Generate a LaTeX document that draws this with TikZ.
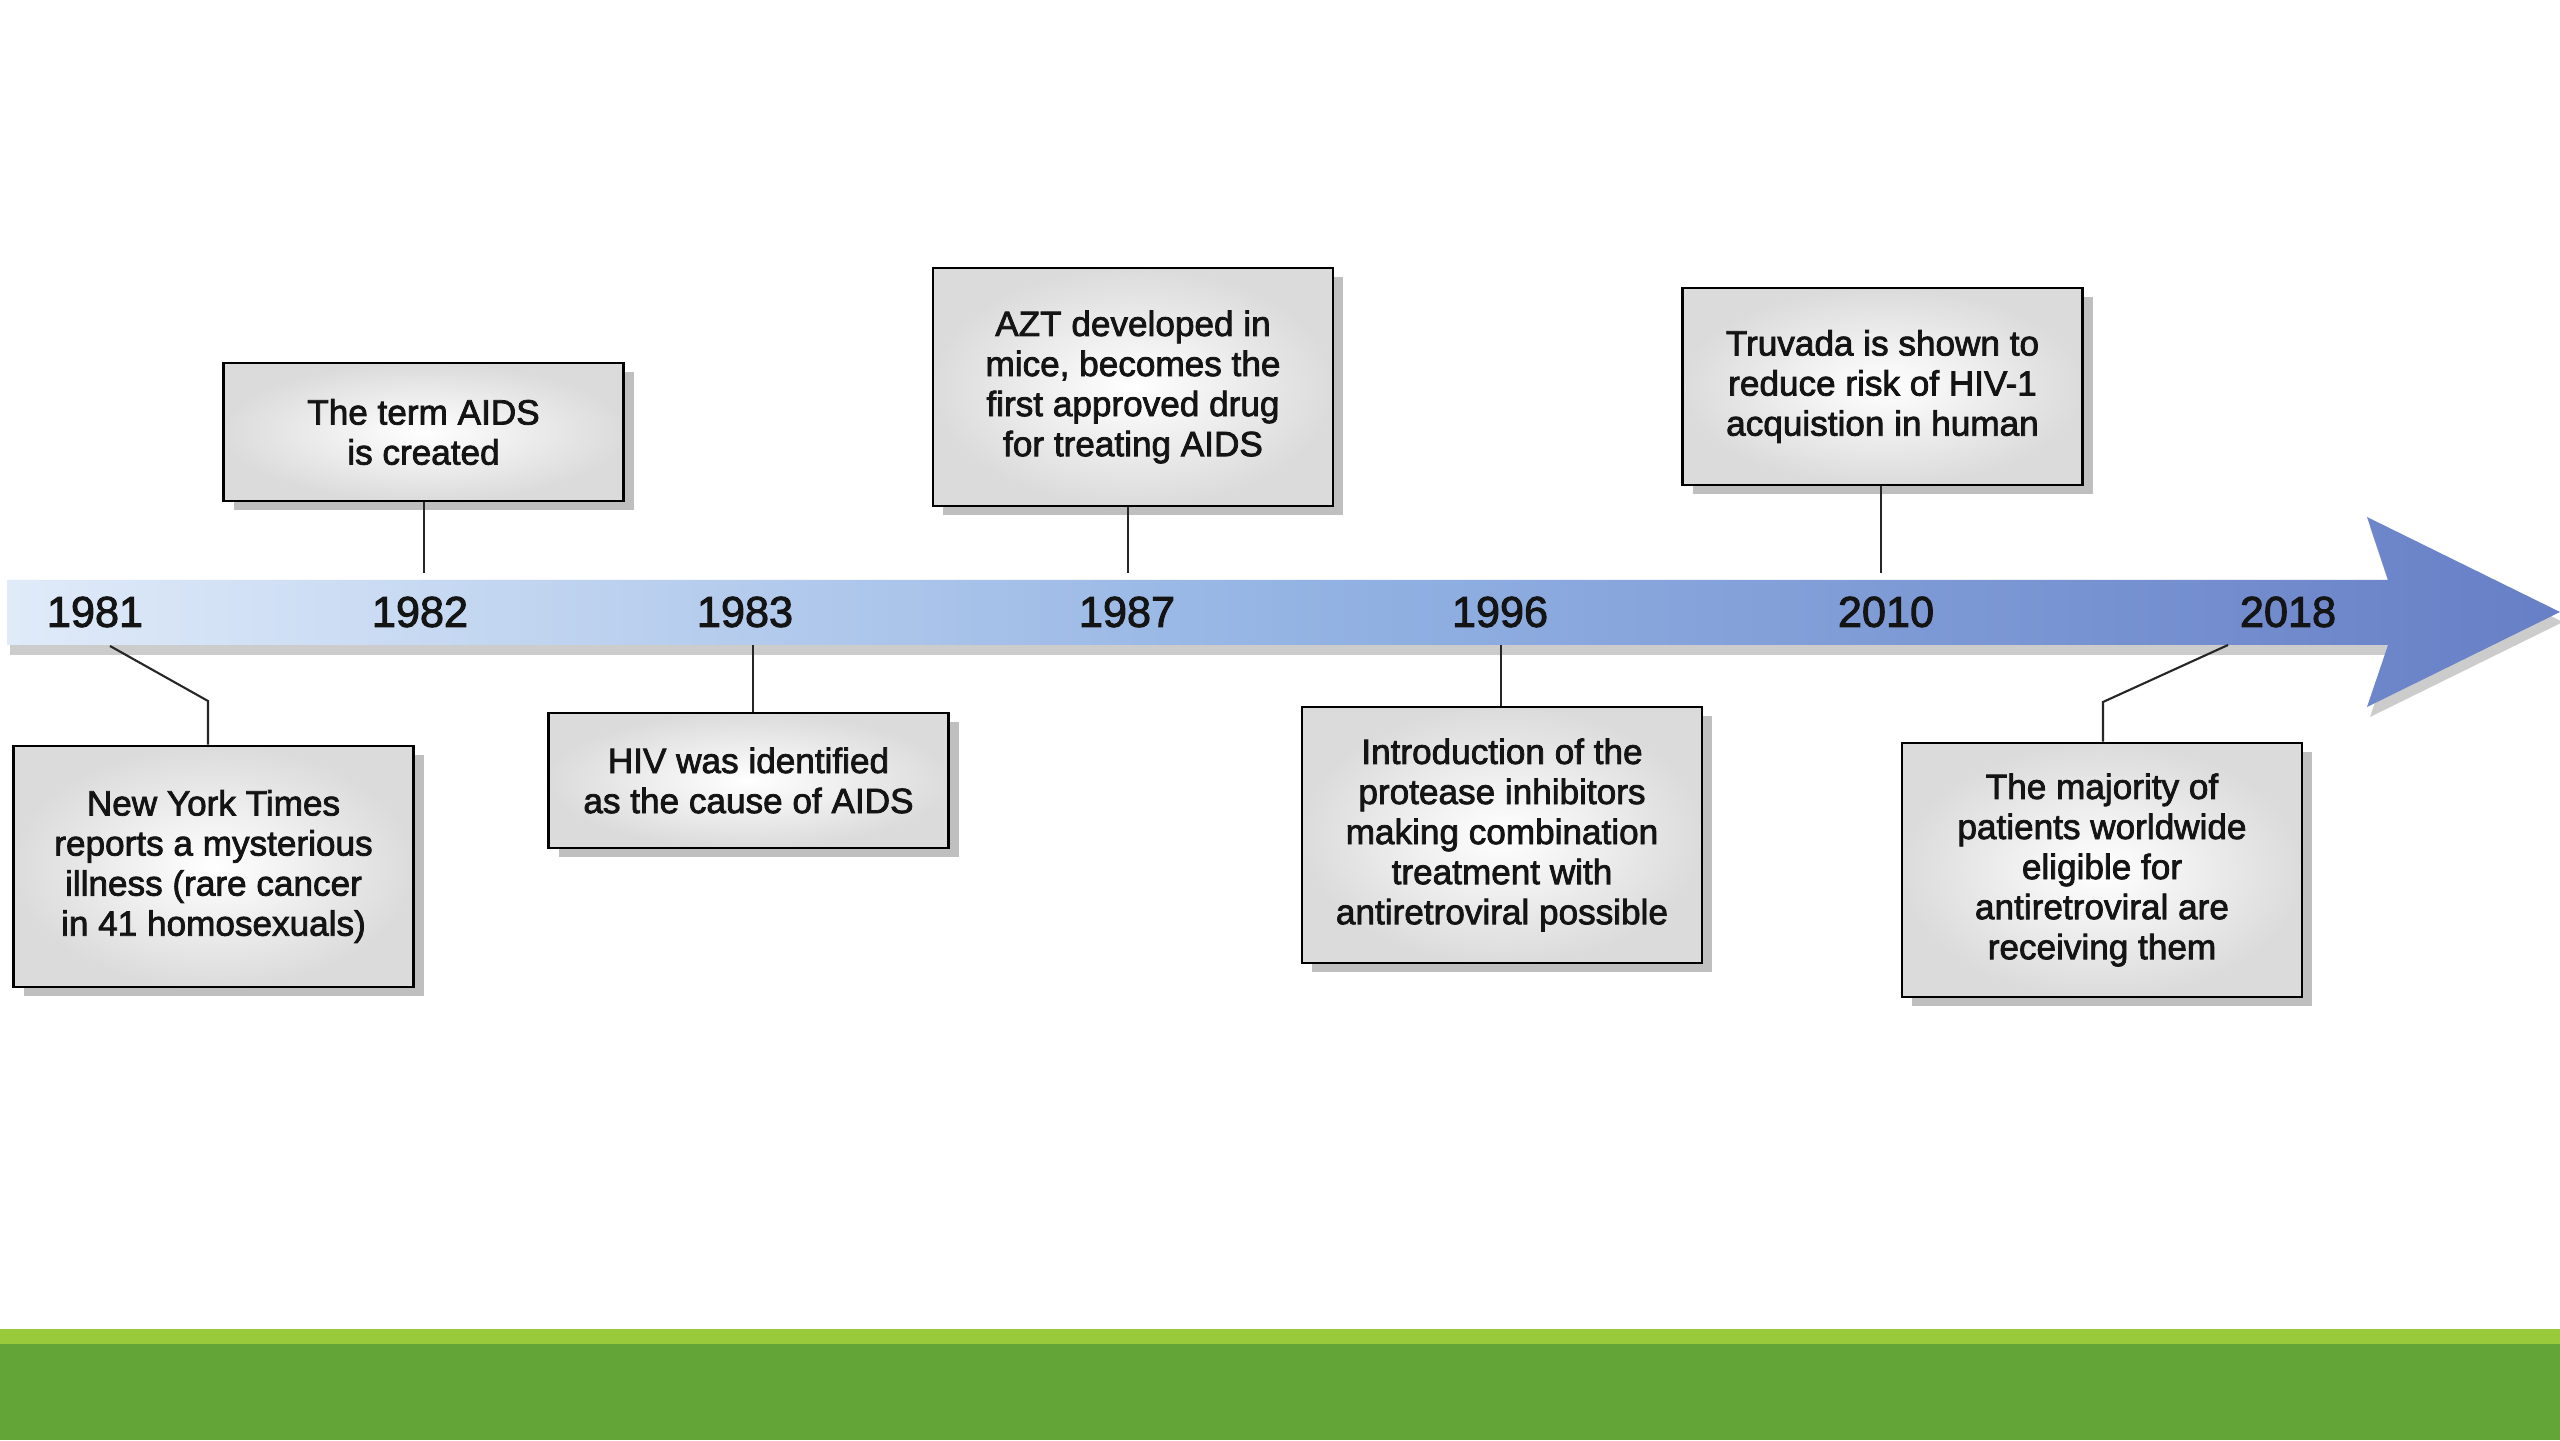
\documentclass[tikz,border=0pt]{standalone}
\usepackage{fontspec}
\setmainfont{Liberation Sans}
\newfontfamily\heavyfont{Liberation Sans}[FakeBold=2.2]
\usepackage{tikz}
\usetikzlibrary{shadows, positioning}
\definecolor{tlLight}{RGB}{224,235,249}
\definecolor{tlMid}{RGB}{148,180,228}
\definecolor{tlDark}{RGB}{103,127,198}
\definecolor{barLight}{RGB}{153,202,59}
\definecolor{barDark}{RGB}{100,165,56}

\tikzset{
  eventbox/.style={draw=black, line width=0.8pt, inner color=white, outer color=black!14,
    minimum width=4cm, align=center, text=black!92,
    font=\heavyfont\fontsize{10}{11.4}\selectfont,
    drop shadow={shadow xshift=0.1cm, shadow yshift=-0.09cm, fill=black!25, opacity=1}},
  yearlabel/.style={font=\heavyfont\fontsize{12.3}{14}\selectfont, text=black!92},
  tick/.style={line width=0.6pt, black!85}
}

\begin{document}
\begin{tikzpicture}
    \useasboundingbox (0,0) rectangle (25.6,14.4);
    \fill[white] (0,0) rectangle (25.6,14.4);

    % Green footer
    \fill[barDark] (0,0) rectangle (25.6,0.96);
    \fill[barLight] (0,0.96) rectangle (25.6,1.11);

    % Timeline arrow
    \fill[black!20] ([shift={(0.03,-0.1)}]0.07,8.60) -- ++(23.81,0) -- ++(-0.21,0.63) -- ++(1.93,-0.95)
        -- ++(-1.93,-0.95) -- ++(0.21,0.62) -- ++(-23.81,0) -- cycle;
    \shade[left color=tlLight, right color=tlDark, middle color=tlMid]
        (0.07,8.60) -- (23.88,8.60) -- (23.67,9.23) -- (25.6,8.28) -- (23.67,7.33) -- (23.88,7.95) -- (0.07,7.95) -- cycle;

    % Years
    \node[yearlabel] (y1981) at (0.95,8.28) {1981};
    \node[yearlabel] (y1982) at (4.20,8.28) {1982};
    \node[yearlabel] (y1983) at (7.45,8.28) {1983};
    \node[yearlabel] (y1987) at (11.27,8.28) {1987};
    \node[yearlabel] (y1996) at (15.00,8.28) {1996};
    \node[yearlabel] (y2010) at (18.86,8.28) {2010};
    \node[yearlabel] (y2018) at (22.88,8.28) {2018};

    % Events
    \node[eventbox, minimum height=2.41cm] (b1981) at (2.135,5.735)
        {New York Times\\reports a mysterious\\illness (rare cancer\\in 41 homosexuals)};
    \node[eventbox, minimum height=1.38cm] (b1982) at (4.235,10.08)
        {The term AIDS\\is created};
    \node[eventbox, minimum height=1.35cm] (b1983) at (7.485,6.595)
        {HIV was identified\\as the cause of AIDS};
    \node[eventbox, minimum height=2.38cm] (b1987) at (11.33,10.53)
        {AZT developed in\\mice, becomes the\\first approved drug\\for treating AIDS};
    \node[eventbox, minimum height=2.56cm] (b1996) at (15.02,6.05)
        {Introduction of the\\protease inhibitors\\making combination\\treatment with\\antiretroviral possible};
    \node[eventbox, minimum height=1.97cm] (b2010) at (18.825,10.535)
        {Truvada is shown to\\reduce risk of HIV-1\\acquistion in human};
    \node[eventbox, minimum height=2.54cm] (b2018) at (21.02,5.70)
        {The majority of\\patients worldwide\\eligible for\\antiretroviral are\\receiving them};

    % Tick ends on the arrow
    \coordinate (t1981) at (1.10,7.94);
    \coordinate (k1981) at (2.08,7.39);
    \coordinate (t1982) at (4.24,8.67);
    \coordinate (t1983) at (7.53,7.95);
    \coordinate (t1987) at (11.28,8.67);
    \coordinate (t1996) at (15.01,7.95);
    \coordinate (t2010) at (18.81,8.67);
    \coordinate (t2018) at (22.28,7.95);
    \coordinate (k2018) at (21.03,7.38);

    % Connectors
    \draw[tick] (t1981) -- (k1981) -- (k1981 |- b1981.north);
    \draw[tick] (b1982.south -| t1982) -- (t1982);
    \draw[tick] (t1983) -- (t1983 |- b1983.north);
    \draw[tick] (b1987.south -| t1987) -- (t1987);
    \draw[tick] (t1996) -- (t1996 |- b1996.north);
    \draw[tick] (b2010.south -| t2010) -- (t2010);
    \draw[tick] (t2018) -- (k2018) -- (k2018 |- b2018.north);
\end{tikzpicture}
\end{document}
